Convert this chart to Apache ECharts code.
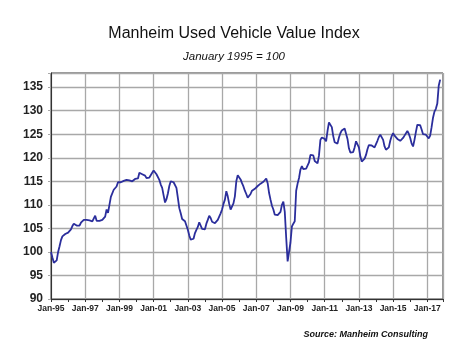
<!DOCTYPE html>
<html>
<head>
<meta charset="utf-8">
<script src="https://cdn.jsdelivr.net/npm/echarts@6/dist/echarts.min.js"></script>
<style>
  html, body { margin: 0; padding: 0; background: #fff; }
  #chart { width: 468px; height: 351px; }
</style>
</head>
<body>
<div id="chart"></div>
<script>
// monthly index, Jan 1995 = 100 (month 0) .. Oct 2017
var indexValues = [
  100, 98.8, 97.7, 97.8, 98.2, 100, 101.2, 102.5, 103.3, 103.6, 103.8, 104,           // 1995
  104.1, 104.3, 104.8, 105.5, 106, 105.6, 105.6, 105.7, 105.6, 106.2, 106.5, 106.8,   // 1996
  106.7, 106.8, 106.6, 106.7, 106.6, 106.5, 106.3, 107.7, 106.6, 107, 106.6, 106.3,   // 1997
  106.8, 107, 107.5, 109, 108.3, 110, 111.7, 112, 113.2, 113.5, 113.9, 114.8,         // 1998
  114.4, 114.8, 115, 115.1, 115.3, 115.3, 115.2, 115.2, 115, 115, 115.3, 115.5,       // 1999
  115.5, 115.6, 116.8, 116.4, 116.5, 116.8, 116.2, 115.7, 115.7, 115.8, 115.9, 116.8, // 2000
  117.3, 117.2, 116.5, 116.1, 115.3, 114.3, 113.6, 112, 110.5, 111.2, 112.4, 114,     // 2001
  115, 114.9, 114.8, 115, 113.6, 111.5, 109.3, 108.2, 107, 106.6, 106.5, 105.6,       // 2002
  104.7, 103.5, 102.6, 102.4, 102.8, 104, 104.7, 105.3, 106.3, 105.9, 104.9, 104.7,   // 2003
  104.8, 106, 106.8, 107.7, 107.2, 106.4, 106.2, 106.1, 106.2, 106.8, 107.5, 108.2,   // 2004
  109, 110.2, 111.1, 112.9, 111.8, 110.2, 109, 109.1, 110.3, 111.8, 115, 116.3,       // 2005
  116, 115.4, 114.6, 113.9, 113, 112.3, 111.5, 111.7, 112.3, 113, 113.2, 113.4,       // 2006
  113.3, 114, 114.1, 114.5, 114.8, 114.9, 115, 115.6, 114.6, 112.5, 111.1, 109.8,     // 2007
  109, 107.9, 107.7, 107.8, 107.4, 108.5, 110, 110.7, 108.5, 103, 98, 97.8,           // 2008
  102, 105.4, 106, 106.5, 113, 114.5, 115.7, 117.5, 118.2, 117.6, 117.6, 117.7,       // 2009
  117.8, 119, 120.6, 120.8, 120.5, 119.3, 118.9, 118.8, 120.5, 123.8, 124.3, 124.5,   // 2010
  124, 123.5, 125.7, 127.5, 127.7, 126.5, 124.6, 123.3, 123, 123, 124.3, 125.2,       // 2011
  125.8, 126.1, 126.2, 126.1, 124, 122, 121.1, 120.8, 121.2, 122.2, 123.5, 123.6,     // 2012
  122.2, 120.3, 119.2, 119.1, 119.8, 120.6, 121.8, 122.7, 122.6, 122.6, 123, 122.2,   // 2013
  122.5, 123.6, 124.4, 124.9, 124.5, 123.8, 122.4, 121.7, 121.5, 122.2, 123.6, 124.6, // 2014
  125.2, 124.7, 124.3, 124, 123.7, 123.6, 123.8, 124.2, 124.7, 125, 125.7, 125.1,     // 2015
  124.2, 123, 122.4, 123.8, 125.5, 127, 127, 126.9, 126, 125, 125, 124.9,             // 2016
  124.6, 124.1, 124.7, 126.5, 128.5, 129.8, 130.4, 131.5, 135.3, 136.6                // 2017
];
var xTickLabels = ['Jan-95', 'Jan-97', 'Jan-99', 'Jan-01', 'Jan-03', 'Jan-05',
                   'Jan-07', 'Jan-09', 'Jan-11', 'Jan-13', 'Jan-15', 'Jan-17'];
var yTicks = [90, 95, 100, 105, 110, 115, 120, 125, 130, 135];

var points = indexValues.map(function (v, i) { return [i, v]; });
var font = "'Liberation Sans', Arial, sans-serif";

var chart = echarts.init(document.getElementById('chart'));
chart.setOption({
  animation: false,
  backgroundColor: '#fff',
  title: {
    text: 'Manheim Used Vehicle Value Index',
    subtext: 'January 1995 = 100',
    left: 'center',
    top: 21,
    itemGap: 9,
    textStyle: { fontFamily: font, fontSize: 16, fontWeight: 'normal', color: '#111' },
    subtextStyle: { fontFamily: font, fontSize: 11.5, fontStyle: 'italic', color: '#111' }
  },
  grid: {
    left: 51, right: 25, top: 73, bottom: 52,
    show: true, borderColor: '#333', borderWidth: 1
  },
  xAxis: [
    {
      type: 'value', min: 0, max: 275, interval: 24,
      axisLine: { lineStyle: { color: '#333', width: 1 } },
      axisTick: { show: true, length: 3, lineStyle: { color: '#333' } },
      splitLine: { show: true, lineStyle: { color: '#a8a8a8', width: 1.3 } },
      axisLabel: {
        fontFamily: font, fontSize: 8.5, fontWeight: 'bold', color: '#222', margin: 5,
        formatter: function (v) { return v % 24 === 0 ? (xTickLabels[v / 24] || '') : ''; }
      }
    },
    {
      type: 'value', min: 0, max: 275, interval: 12, position: 'bottom',
      axisLine: { show: false },
      axisTick: { show: true, length: 3, lineStyle: { color: '#333' } },
      splitLine: { show: false },
      axisLabel: { show: false }
    }
  ],
  yAxis: {
    type: 'value', min: 90, max: 138, interval: 5,
    axisLine: { show: true, lineStyle: { color: '#333', width: 1 } },
    axisTick: { show: true, length: 3, lineStyle: { color: '#a8a8a8' } },
    splitLine: { show: true, lineStyle: { color: '#a8a8a8', width: 1.3 } },
    axisLabel: {
      fontFamily: font, fontSize: 12, fontWeight: 'bold', color: '#222', margin: 8,
      formatter: function (v) { return yTicks.indexOf(v) >= 0 ? v : ''; }
    }
  },
  series: [{
    type: 'line',
    xAxisIndex: 0,
    data: points,
    showSymbol: false,
    lineStyle: { color: '#2b2e9c', width: 1.8 }
  }],
  graphic: [{
    type: 'text',
    right: 40,
    top: 330,
    style: {
      text: 'Source: Manheim Consulting',
      font: "italic bold 9px 'Liberation Sans', Arial, sans-serif",
      fill: '#111'
    }
  }]
});
</script>
</body>
</html>
